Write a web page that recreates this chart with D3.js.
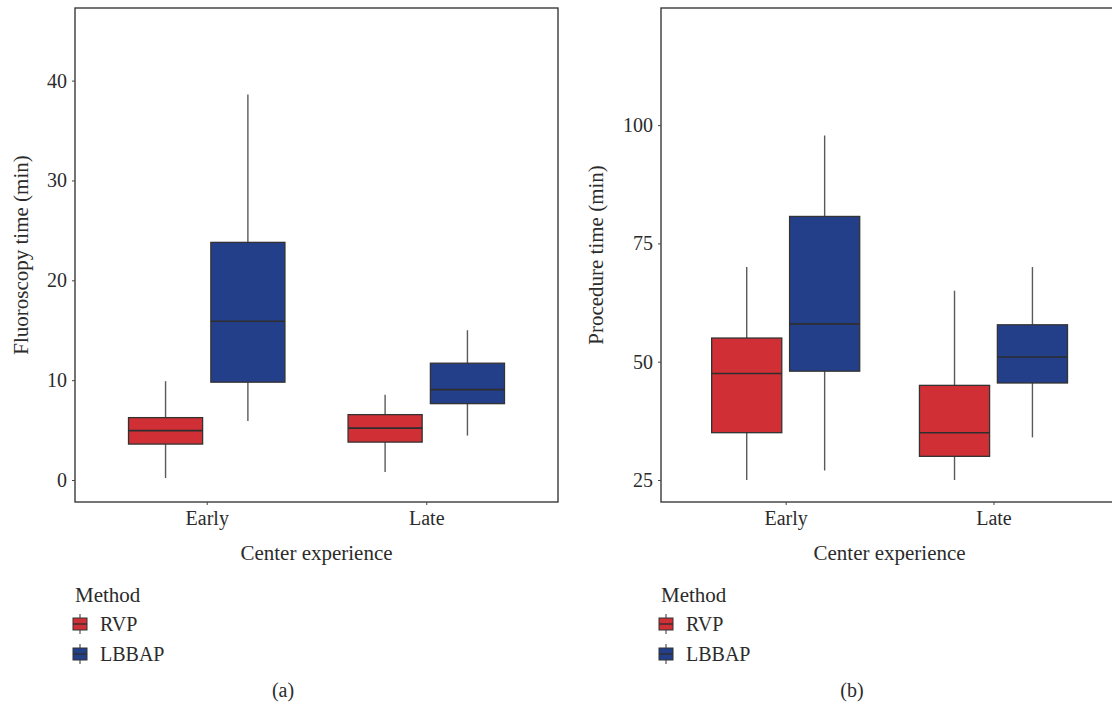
<!DOCTYPE html>
<html>
<head>
<meta charset="utf-8">
<script src="https://cdn.jsdelivr.net/npm/d3@7"></script>
<style>
  html, body { margin: 0; padding: 0; background: #fff; }
  svg { display: block; overflow: hidden; }
  text { font-family: "Liberation Serif", "DejaVu Serif", serif; fill: #2b2b2b; }
</style>
</head>
<body>
<div id="chart"></div>
<script>
// categories and groups
var categories = ["Early", "Late"];
var methods = ["RVP", "LBBAP"];

// box stats per category: [whisker low, Q1, median, Q3, whisker high]
var fluoroRVP   = [[0.2, 3.6, 4.95, 6.25, 9.9], [0.8, 3.8, 5.2, 6.55, 8.55]];
var fluoroLBBAP = [[5.9, 9.8, 15.9, 23.8, 38.6], [4.45, 7.65, 9.05, 11.7, 15.0]];
var procRVP     = [[25, 35, 47.5, 55, 70], [25, 30, 35, 45, 65]];
var procLBBAP   = [[27, 48, 58, 80.7, 97.8], [34, 45.5, 51, 57.8, 70]];

// tick labels
var fluoroTicks = [0, 10, 20, 30, 40];
var procTicks = [25, 50, 75, 100];

var colors = { RVP: "#d02f35", LBBAP: "#243f8a" };

var svg = d3.select("#chart").append("svg")
    .attr("width", 1112)
    .attr("height", 705);

//draws one panel
function panel(cfg) {
    var x = d3.scalePoint().domain(categories)
        .range([cfg.left, cfg.right]).padding(0.6);
    var step = x.step();
    var dodge = d3.scaleBand().domain(methods)
        .range([-0.375 * step, 0.375 * step]);
    var y = d3.scaleLinear().domain(cfg.domain).range([cfg.bottom, cfg.top]);

    var g = svg.append("g");

    // boxes
    cfg.series.forEach(function (s) {
        var grp = g.append("g");
        var bw = dodge.bandwidth() * 0.9;
        s.values.forEach(function (v, i) {
            var cx = x(categories[i]) + dodge(s.name) + dodge.bandwidth() / 2;
            grp.append("line")
                .attr("x1", cx).attr("x2", cx)
                .attr("y1", y(v[0])).attr("y2", y(v[4]))
                .attr("stroke", "#5a5a5a").attr("stroke-width", 1.4);
            grp.append("rect")
                .attr("x", cx - bw / 2).attr("width", bw)
                .attr("y", y(v[3])).attr("height", y(v[1]) - y(v[3]))
                .attr("fill", colors[s.name])
                .attr("stroke", "#333").attr("stroke-width", 1.3);
            grp.append("line")
                .attr("x1", cx - bw / 2).attr("x2", cx + bw / 2)
                .attr("y1", y(v[2])).attr("y2", y(v[2]))
                .attr("stroke", "#2e2e2e").attr("stroke-width", 1.6);
        });
    });

    // frame
    g.append("rect")
        .attr("x", cfg.left).attr("y", cfg.top)
        .attr("width", cfg.right - cfg.left).attr("height", cfg.bottom - cfg.top)
        .attr("fill", "none").attr("stroke", "#3a3a3a").attr("stroke-width", 1.4);

    // y axis
    var yAxis = g.append("g")
        .attr("transform", "translate(" + cfg.left + ",0)")
        .call(d3.axisLeft(y).tickValues(cfg.ticks).tickSize(3).tickPadding(5));
    yAxis.select(".domain").remove();
    yAxis.selectAll("line").attr("stroke", "#444");
    yAxis.selectAll("text").attr("font-size", 20).attr("fill", "#2b2b2b")
        .style("font-family", "Liberation Serif");

    // x axis
    var xAxis = g.append("g")
        .attr("transform", "translate(0," + cfg.bottom + ")")
        .call(d3.axisBottom(x).tickSize(3).tickPadding(6));
    xAxis.select(".domain").remove();
    xAxis.selectAll("line").attr("stroke", "#444");
    xAxis.selectAll("text").attr("font-size", 20).attr("fill", "#2b2b2b")
        .style("font-family", "Liberation Serif");

    // titles
    g.append("text")
        .attr("x", (cfg.left + cfg.right) / 2).attr("y", 560)
        .attr("text-anchor", "middle").attr("font-size", 21)
        .text("Center experience");
    g.append("text")
        .attr("transform", "translate(" + cfg.ylabX + "," + (cfg.top + cfg.bottom) / 2 + ") rotate(-90)")
        .attr("text-anchor", "middle").attr("font-size", 21)
        .text(cfg.ylab);

    // legend
    var lg = g.append("g").attr("transform", "translate(" + cfg.left + ",0)");
    lg.append("text").attr("x", 0).attr("y", 602).attr("font-size", 21).text("Method");
    methods.forEach(function (m, i) {
        var cy = 624 + i * 30;
        lg.append("line").attr("x1", 5).attr("x2", 5)
            .attr("y1", cy - 10).attr("y2", cy + 10)
            .attr("stroke", "#555").attr("stroke-width", 1.2);
        lg.append("rect").attr("x", -2).attr("y", cy - 6)
            .attr("width", 14).attr("height", 12)
            .attr("fill", colors[m]).attr("stroke", "#333").attr("stroke-width", 1);
        lg.append("line").attr("x1", -2).attr("x2", 12)
            .attr("y1", cy).attr("y2", cy)
            .attr("stroke", "#2e2e2e").attr("stroke-width", 1.4);
        lg.append("text").attr("x", 25).attr("y", cy + 7)
            .attr("font-size", 20).text(m);
    });

    g.append("text")
        .attr("x", cfg.capX).attr("y", 697)
        .attr("text-anchor", "middle").attr("font-size", 20)
        .text(cfg.caption);
}

panel({
    left: 75, right: 558,
    top: 8, bottom: 502,
    domain: [-2.2, 47.27],
    ticks: fluoroTicks,
    series: [{ name: "RVP", values: fluoroRVP }, { name: "LBBAP", values: fluoroLBBAP }],
    ylab: "Fluoroscopy time (min)", ylabX: 28,
    caption: "(a)", capX: 283
});

panel({
    left: 661, right: 661 + 207.8 * 2.2,
    top: 8, bottom: 502,
    domain: [20.35, 124.75],
    ticks: procTicks,
    series: [{ name: "RVP", values: procRVP }, { name: "LBBAP", values: procLBBAP }],
    ylab: "Procedure time (min)", ylabX: 603,
    caption: "(b)", capX: 852
});
</script>
</body>
</html>
